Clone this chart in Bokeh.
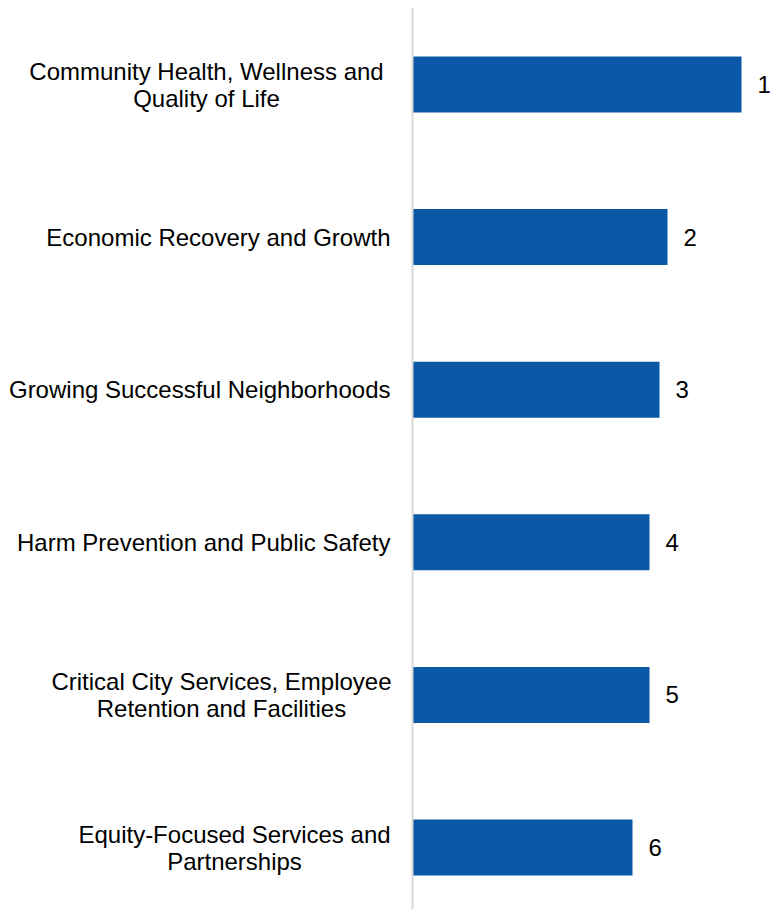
from bokeh.plotting import figure
from bokeh.models import ColumnDataSource, Range1d, Span
from bokeh.core.properties import value
from bokeh.embed import file_html
from bokeh.resources import INLINE

# ---- data ----
categories = [
    "Community Health, Wellness and\nQuality of Life",
    "Economic Recovery and Growth",
    "Growing Successful Neighborhoods",
    "Harm Prevention and Public Safety",
    "Critical City Services, Employee\nRetention and Facilities",
    "Equity-Focused Services and\nPartnerships",
]
scores = [3.29, 2.55, 2.47, 2.37, 2.37, 2.20]
ranks = ["1", "2", "3", "4", "5", "6"]

# ---- styles (layout only) ----
label_align = ["center", "right", "right", "right", "center", "center"]
label_offset = [-206, -22, -22, -22, -191, -178]

positions = list(range(len(categories)))

src = ColumnDataSource(dict(
    y=positions, score=scores, rank=ranks, cat=categories,
    zero=[0] * len(categories), align=label_align, off=label_offset,
))

FONT = value("Liberation Sans")

p = figure(width=770, height=909, output_backend="svg", toolbar_location=None,
           x_range=Range1d(-4.12, 3.58), y_range=Range1d(5.406, -0.5046),
           x_axis_type=None, y_axis_type=None, min_border=0, min_border_top=7)
p.outline_line_color = None
p.grid.visible = False
p.background_fill_color = "white"

p.hbar(y="y", left=0, right="score", height=0.367, source=src,
       fill_color="#0B59A6", line_color=None)

p.add_layout(Span(location=0, dimension="height", line_color="#D9D9D9", line_width=2))

p.text(x="score", y="y", text="rank", source=src, x_offset=16,
       text_align="left", text_baseline="middle", text_font=FONT,
       text_font_size="24px", text_color="#000000")

p.text(x="zero", y="y", text="cat", source=src, x_offset="off",
       text_align="align", text_baseline="middle", text_font=FONT,
       text_font_size="24px", text_color="#000000", text_line_height=1.0)

open("out.html", "w").write(file_html(p, INLINE))
